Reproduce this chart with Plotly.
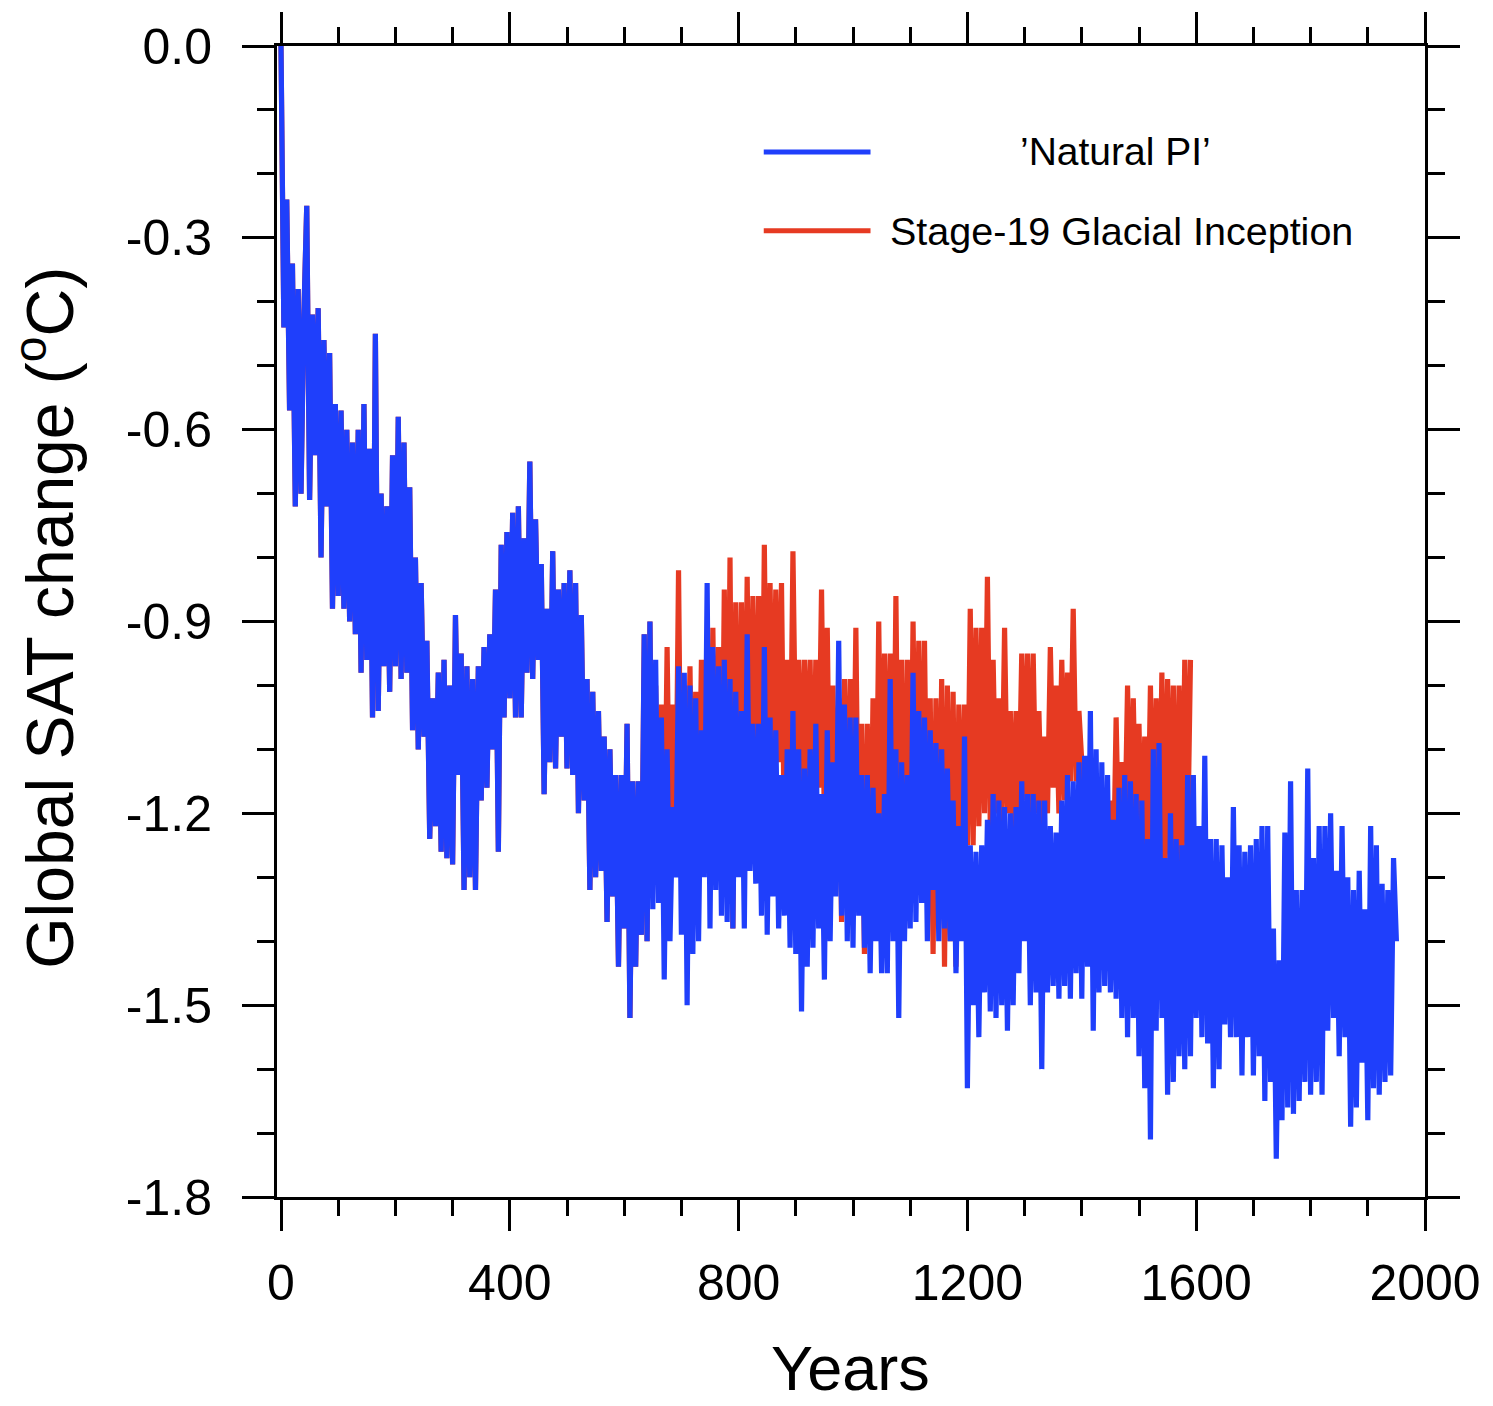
import plotly.graph_objects as go

# ---- data (5-year samples) ----
blue_years = list(range(0, 1951, 5))
natural_pi = [
    0.00, -0.44, -0.24, -0.57, -0.34, -0.72, -0.38, -0.70, -0.42, -0.25, -0.71, -0.42, -0.64, -0.41, -0.80, -0.46, -0.72, -0.48, -0.88, -0.56,
    -0.86, -0.57, -0.88, -0.60, -0.90, -0.62, -0.92, -0.60, -0.98, -0.56, -0.96, -0.63, -1.05, -0.45, -1.04, -0.70, -0.97, -0.72, -1.01, -0.64,
    -0.97, -0.58, -0.99, -0.62, -0.98, -0.69, -1.07, -0.80, -1.10, -0.84, -1.08, -0.93, -1.24, -1.02, -1.22, -0.98, -1.26, -0.96, -1.27, -1.00,
    -1.28, -0.89, -1.14, -0.95, -1.32, -0.97, -1.30, -0.99, -1.32, -0.97, -1.18, -0.94, -1.16, -0.92, -1.10, -0.85, -1.26, -0.78, -1.05, -0.76,
    -1.02, -0.73, -1.05, -0.72, -1.05, -0.77, -0.98, -0.65, -0.99, -0.74, -0.96, -0.81, -1.17, -0.88, -1.12, -0.79, -1.13, -0.85, -1.08, -0.84,
    -1.13, -0.82, -1.14, -0.84, -1.20, -0.89, -1.18, -0.99, -1.32, -1.01, -1.30, -1.04, -1.29, -1.08, -1.37, -1.10, -1.33, -1.14, -1.44, -1.14,
    -1.38, -1.06, -1.52, -1.15, -1.44, -1.15, -1.39, -0.92, -1.40, -0.90, -1.35, -0.96, -1.34, -1.05, -1.46, -1.10, -1.40, -1.19, -1.30, -0.97,
    -1.39, -0.98, -1.50, -1.00, -1.42, -1.02, -1.40, -1.07, -1.30, -0.84, -1.38, -0.94, -1.32, -0.97, -1.36, -0.96, -1.37, -0.99, -1.38, -1.01,
    -1.30, -1.04, -1.38, -0.92, -1.29, -1.06, -1.31, -1.06, -1.36, -0.94, -1.39, -1.05, -1.33, -1.07, -1.38, -1.14, -1.36, -1.10, -1.41, -1.04,
    -1.42, -1.10, -1.51, -1.13, -1.44, -1.10, -1.41, -1.06, -1.38, -1.17, -1.46, -1.07, -1.40, -1.12, -1.33, -0.93, -1.36, -1.03, -1.40, -1.05,
    -1.41, -1.05, -1.36, -1.14, -1.41, -1.14, -1.45, -1.16, -1.40, -1.20, -1.45, -1.17, -1.45, -0.99, -1.40, -1.10, -1.52, -1.12, -1.40, -1.14,
    -1.38, -0.98, -1.37, -1.04, -1.34, -1.05, -1.40, -1.07, -1.32, -1.09, -1.40, -1.10, -1.38, -1.13, -1.40, -1.18, -1.45, -1.22, -1.40, -1.08,
    -1.63, -1.25, -1.50, -1.26, -1.55, -1.25, -1.48, -1.21, -1.51, -1.17, -1.52, -1.18, -1.50, -1.19, -1.54, -1.20, -1.50, -1.19, -1.45, -1.15,
    -1.40, -1.17, -1.50, -1.17, -1.48, -1.18, -1.60, -1.18, -1.48, -1.22, -1.47, -1.23, -1.49, -1.18, -1.47, -1.14, -1.49, -1.15, -1.45, -1.12,
    -1.49, -1.11, -1.44, -1.04, -1.54, -1.10, -1.48, -1.12, -1.47, -1.14, -1.48, -1.21, -1.49, -1.16, -1.52, -1.14, -1.55, -1.15, -1.52, -1.17,
    -1.58, -1.18, -1.63, -1.24, -1.71, -1.10, -1.54, -1.09, -1.52, -1.27, -1.64, -1.20, -1.62, -1.24, -1.58, -1.25, -1.60, -1.14, -1.58, -1.14,
    -1.52, -1.22, -1.55, -1.11, -1.56, -1.24, -1.63, -1.24, -1.60, -1.25, -1.53, -1.30, -1.55, -1.19, -1.55, -1.25, -1.61, -1.26, -1.55, -1.25,
    -1.61, -1.24, -1.58, -1.22, -1.65, -1.22, -1.62, -1.38, -1.74, -1.43, -1.68, -1.23, -1.66, -1.15, -1.67, -1.32, -1.65, -1.32, -1.62, -1.13,
    -1.64, -1.27, -1.62, -1.22, -1.64, -1.22, -1.54, -1.20, -1.52, -1.29, -1.58, -1.22, -1.55, -1.30, -1.69, -1.32, -1.66, -1.29, -1.59, -1.35,
    -1.68, -1.22, -1.63, -1.25, -1.64, -1.31, -1.62, -1.32, -1.61, -1.27, -1.40,
]

# Stage-19 run: identical to 'Natural PI' (hidden underneath) until year 645
red_years = list(range(0, 1591, 5))
stage19_after_645 = [
    -1.30, -1.00, -1.32, -1.03, -1.30, -0.94, -1.28, -1.03, -1.25, -0.82, -1.30, -1.00, -1.28, -0.97, -1.30, -1.01, -1.26, -0.96, -1.28, -0.93,
    -1.30, -0.91, -1.25, -0.94, -1.30, -0.85, -1.28, -0.80, -1.38, -0.87, -1.27, -0.87, -1.22, -0.83, -1.25, -0.86, -1.20, -0.86, -1.26, -0.78,
    -1.22, -0.84, -1.14, -0.85, -1.12, -0.84, -1.25, -0.96, -1.20, -0.79, -1.13, -0.96, -1.20, -0.96, -1.16, -0.96, -1.24, -0.96, -1.16, -0.85,
    -1.22, -0.91, -1.28, -1.00, -1.30, -1.02, -1.37, -0.99, -1.30, -0.99, -1.28, -0.91, -1.32, -1.06, -1.42, -1.06, -1.35, -1.02, -1.30, -0.90,
    -1.28, -0.95, -1.26, -0.95, -1.30, -0.86, -1.30, -0.96, -1.38, -0.96, -1.30, -0.90, -1.28, -0.93, -1.30, -0.93, -1.32, -1.02, -1.42, -1.02,
    -1.34, -0.99, -1.44, -1.00, -1.40, -1.01, -1.44, -1.03, -1.30, -1.03, -1.25, -0.88, -1.25, -0.91, -1.22, -0.91, -1.20, -0.83, -1.22, -0.96,
    -1.20, -1.02, -1.22, -0.91, -1.20, -1.04, -1.25, -1.04, -1.20, -0.95, -1.18, -0.95, -1.22, -0.95, -1.20, -1.04, -1.22, -1.08, -1.20, -0.94,
    -1.16, -1.00, -1.20, -0.96, -1.18, -0.98, -1.15, -0.88, -1.15, -1.04, -1.12, -1.25, -1.14, -1.30, -1.16, -1.28, -1.18, -1.32, -1.16, -1.30,
    -1.18, -1.32, -1.05, -1.28, -1.12, -1.25, -1.00, -1.28, -1.02, -1.25, -1.06, -1.30, -1.08, -1.28, -1.00, -1.30, -1.02, -1.28, -0.98, -1.30,
    -0.99, -1.28, -1.00, -1.34, -1.00, -1.30, -0.96, -1.25, -0.96,
]
stage19 = natural_pi[:130] + stage19_after_645

x_ticks = [0, 400, 800, 1200, 1600, 2000]
y_ticks = [0.0, -0.3, -0.6, -0.9, -1.2, -1.5, -1.8]
y_ticklabels = ["0.0", "-0.3", "-0.6", "-0.9", "-1.2", "-1.5", "-1.8"]

BLUE = "#1f3ffb"
RED = "#e63a22"
FONT = "Liberation Sans, Arial, Helvetica, sans-serif"

fig = go.Figure()
fig.add_trace(go.Scatter(x=red_years[:len(stage19)], y=stage19, mode="lines",
                         line=dict(color=RED, width=5.2, simplify=False),
                         name="Stage-19 Glacial Inception", showlegend=False))
fig.add_trace(go.Scatter(x=blue_years[:len(natural_pi)], y=natural_pi, mode="lines",
                         line=dict(color=BLUE, width=5.2, simplify=False),
                         name="'Natural PI'", showlegend=False))

axis_common = dict(
    showline=True, linecolor="black", linewidth=3, mirror="ticks",
    ticks="outside", tickcolor="black", tickwidth=3,
    showgrid=False, zeroline=False,
    tickfont=dict(family=FONT, size=50, color="black"),
)
fig.update_xaxes(range=[-7, 2000], tickvals=x_ticks, ticklen=31,
                 minor=dict(ticks="outside", dtick=100, tick0=0, ticklen=16,
                            tickwidth=3, tickcolor="black"),
                 ticklabelstandoff=9, **axis_common)
fig.update_yaxes(range=[-1.8, 0.0], tickvals=y_ticks, ticktext=y_ticklabels, ticklen=32,
                 minor=dict(ticks="outside", dtick=0.1, tick0=0, ticklen=17,
                            tickwidth=3, tickcolor="black"),
                 ticklabelstandoff=20, **axis_common)

# legend drawn as in the original (lines + text inside the plot)
shapes = [
    dict(type="line", xref="paper", yref="paper", x0=0.424, x1=0.517, y0=0.908, y1=0.908,
         line=dict(color=BLUE, width=5)),
    dict(type="line", xref="paper", yref="paper", x0=0.424, x1=0.517, y0=0.8395, y1=0.8395,
         line=dict(color=RED, width=5)),
]
annotations = [
    dict(text="’Natural PI’", xref="paper", yref="paper", x=0.7307, y=0.908,
         xanchor="center", yanchor="middle", showarrow=False,
         font=dict(family=FONT, size=39, color="black")),
    dict(text="Stage-19 Glacial Inception", xref="paper", yref="paper", x=0.5326, y=0.8395,
         xanchor="left", yanchor="middle", showarrow=False,
         font=dict(family=FONT, size=39.5, color="black")),
    dict(text="Years", xref="paper", yref="paper", x=0.4996, y=-0.149,
         xanchor="center", yanchor="middle", showarrow=False,
         font=dict(family=FONT, size=63, color="black")),
    dict(text="Global SAT change (<sup>o</sup>C)", xref="paper", yref="paper", x=-0.2015, y=0.503,
         xanchor="center", yanchor="middle", textangle=-90, showarrow=False,
         font=dict(family=FONT, size=66, color="black")),
]

fig.update_layout(
    width=1493, height=1406,
    margin=dict(l=277, r=65, t=44, b=209),
    paper_bgcolor="white", plot_bgcolor="white",
    shapes=shapes, annotations=annotations,
    showlegend=False,
)

fig.write_html("out.html")
